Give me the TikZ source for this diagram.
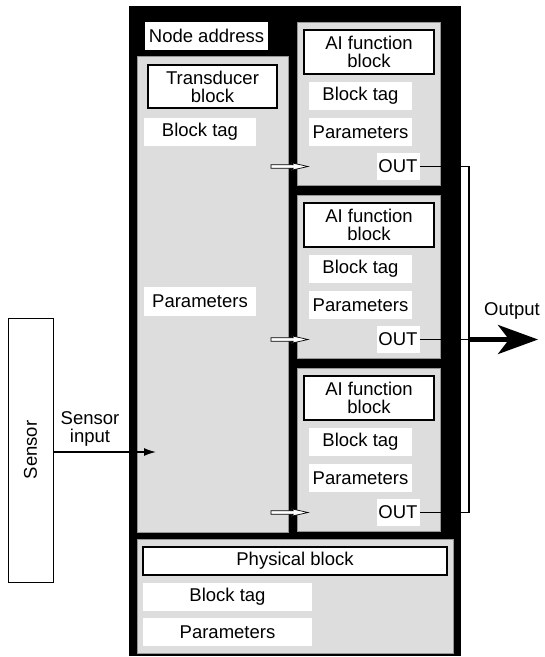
\documentclass[tikz,border=0pt]{standalone}
\usepackage{fontspec}
\setmainfont{Liberation Sans}
\usetikzlibrary{arrows.meta,calc}
\definecolor{panelgray}{RGB}{220,221,220}
\definecolor{edgegray}{RGB}{150,150,150}
\begin{document}
\begin{tikzpicture}[x=1pt,y=-1pt,
  font=\fontsize{18.5}{18}\selectfont,
  every node/.style={inner sep=0pt, outer sep=0pt},
  panel/.style={fill=panelgray, draw=edgegray, line width=0.8pt},
  wbox/.style={fill=white, align=center},
  bbox/.style={fill=white, draw=black, line width=1.1pt, align=center},
  wire/.style={draw=black, line width=1.7pt, line join=miter},
  bigarrow/.style={draw=black, line width=4.5pt, -{Stealth[length=40pt, width=29pt, inset=11pt]}},
  harrow/.pic={\filldraw[fill=white, draw=black, line width=0.7pt]
      (0,-1.8) -- (22,-1.8) -- (20,-3.8) -- (37,0) -- (20,3.8) -- (22,1.8) -- (0,1.8) -- cycle;}
]
\useasboundingbox (0,0) rectangle (545,657);

% outer frame
\node[fill=black, minimum width=332pt, minimum height=650pt] (frame) at (295,331) {};

% transducer panel
\node[panel, minimum width=151pt, minimum height=476pt] (tp) at (212.5,294) {};
\node[wbox, minimum width=123pt, minimum height=28pt] (na) at (206.5,36) {Node address};
\node[bbox, minimum width=129pt, minimum height=43pt] (tb) at (212.5,86.5) {Transducer\\block};
\node[wbox, minimum width=112pt, minimum height=28pt] (tbtag) at (200,132) {Block tag};
\node[wbox, minimum width=112pt, minimum height=29pt] (tbpar) at (200,301.5) {Parameters};

% AI function block panels
\foreach \i/\d in {1/0,2/173,3/346}{
  \node[panel, minimum width=143pt, minimum height=163pt] (ai\i) at (368.5,103.5+\d) {};
  \node[bbox, minimum width=130pt, minimum height=44pt] (aib\i) at (369,52+\d) {AI function\\block};
  \node[wbox, minimum width=103pt, minimum height=28pt] (aitag\i) at (360.5,96+\d) {Block tag};
  \node[wbox, minimum width=103pt, minimum height=28pt] (aipar\i) at (360.5,132+\d) {Parameters};
  \node[wbox, minimum width=43pt, minimum height=27pt] (out\i) at (398,166.5+\d) {OUT};
  \pic at ($(tp.east |- out\i.center)+(-17,0)$) {harrow};
}

% physical block panel
\node[panel, minimum width=316pt, minimum height=114pt] (pp) at (295,596) {};
\node[bbox, minimum width=304pt, minimum height=28pt] (pb) at (295,561) {Physical block};
\node[wbox, minimum width=169pt, minimum height=28pt] (ptag) at (227.5,597) {Block tag};
\node[wbox, minimum width=169pt, minimum height=28pt] (ppar) at (227.5,632) {Parameters};

% output bus
\coordinate (bus) at (469,0);
\coordinate (outtip) at (538,0);
\draw[wire] (out1.east) -- (bus |- out1.east) -- (bus |- out3.east) -- (out3.east);
\draw[wire] (out2.east) -- (bus |- out2.east);
\draw[bigarrow] (bus |- out2.east) -- (outtip |- out2.east);
\node (outlbl) at (512,311) {Output};

% sensor
\node[draw, line width=0.9pt, fill=white, rotate=90, minimum width=264pt, minimum height=45pt] (sensor) at (30.5,450) {Sensor};
\coordinate (sin) at (156,452);
\draw[line width=1.4pt, -{Latex[length=12pt, width=8pt]}] (sensor.south |- sin) -- (sin);
\node[align=center] (silbl) at (90,429) {Sensor\\input};
\end{tikzpicture}
\end{document}
